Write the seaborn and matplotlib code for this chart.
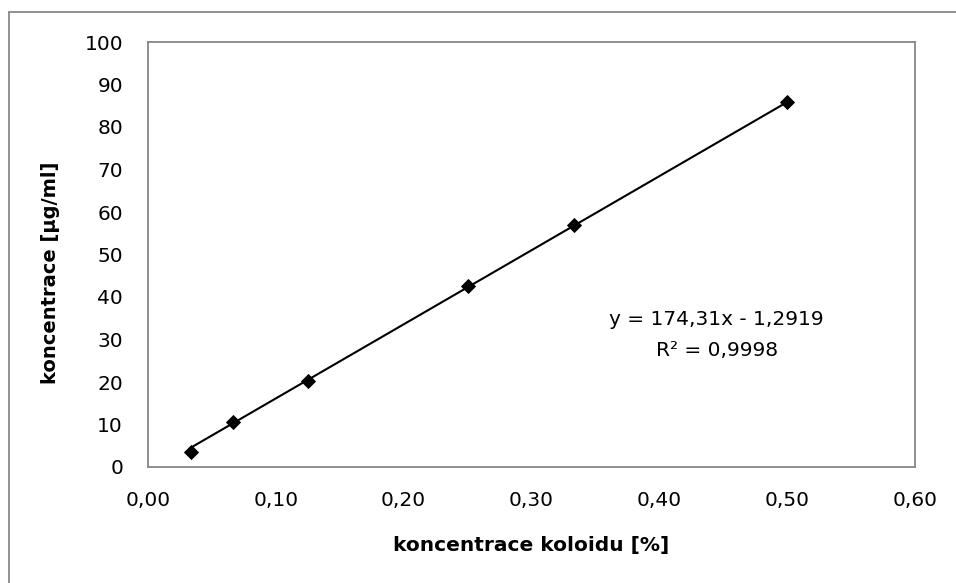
import numpy as np
import pandas as pd
import matplotlib
matplotlib.use("Agg")
import matplotlib.pyplot as plt
from matplotlib.lines import Line2D
import seaborn as sns

# colloid concentration [%] and measured concentration [µg/ml]
koloid = [1 / 30, 1 / 15, 0.125, 0.25, 1 / 3, 0.5]
koncentrace = [3.6, 10.7, 20.3, 42.6, 56.9, 85.8]

# linear trendline
slope = 174.31
intercept = -1.2919
r2 = 0.9998

x_ticks = [0.0, 0.1, 0.2, 0.3, 0.4, 0.5, 0.6]
x_tick_labels = ["0,00", "0,10", "0,20", "0,30", "0,40", "0,50", "0,60"]
y_ticks = [0, 10, 20, 30, 40, 50, 60, 70, 80, 90, 100]
y_tick_labels = ["0", "10", "20", "30", "40", "50", "60", "70", "80", "90", "100"]

sns.set_theme(style="white")
plt.rcParams["font.family"] = ["DejaVu Sans"]
plt.rcParams["text.color"] = "black"

W, H = 956, 583
fig = plt.figure(figsize=(W / 100, H / 100), dpi=100)
ax = fig.add_axes([148 / W, 1 - 467 / H, (915 - 148) / W, (467 - 42) / H])

df = pd.DataFrame({"x": koloid, "y": koncentrace})

# trendline across the data range
xs = np.array([min(koloid), max(koloid)])
trend = pd.DataFrame({"x": xs, "y": slope * xs + intercept})
sns.lineplot(data=trend, x="x", y="y", ax=ax, color="black", linewidth=1.5, zorder=2)

sns.scatterplot(data=df, x="x", y="y", ax=ax, marker="D", s=60, color="black",
                edgecolor="black", linewidth=0, zorder=3)

ax.set_xlim(0, 0.6)
ax.set_ylim(0, 100)
ax.set_xticks(x_ticks)
ax.set_xticklabels(x_tick_labels)
ax.set_yticks(y_ticks)
ax.set_yticklabels(y_tick_labels)
ax.tick_params(axis="both", length=0, labelsize=14.5, colors="black")
ax.tick_params(axis="x", pad=17)
ax.tick_params(axis="y", pad=18)

for sp in ax.spines.values():
    sp.set_color("#868686")
    sp.set_linewidth(1.3)

ax.set_xlabel("")
ax.set_ylabel("")
fig.text(531 / W, 1 - 546 / H, "koncentrace koloidu [%]", ha="center", va="center",
         fontsize=14.5, fontweight="bold", color="black")
fig.text(51 / W, 1 - 273 / H, "koncentrace [µg/ml]", ha="center", va="center",
         rotation=90, fontsize=14, fontweight="bold", color="black")

# trendline equation
fig.text(716 / W, 1 - 325 / H, f"y = {slope:.2f}x - {abs(intercept):.4f}".replace(".", ","),
         ha="center", va="baseline", fontsize=14.5, color="black")
fig.text(717 / W, 1 - 356 / H, f"R² = {r2:.4f}".replace(".", ","),
         ha="center", va="baseline", fontsize=14.5, color="black")

# chart area border (left and top edges)
border = dict(color="#888888", linewidth=1.3, transform=fig.transFigure)
fig.add_artist(Line2D([9 / W, 9 / W], [0, 1 - 12 / H], **border))
fig.add_artist(Line2D([9 / W, 1], [1 - 12 / H, 1 - 12 / H], **border))

fig.savefig("out.png", dpi=100)
